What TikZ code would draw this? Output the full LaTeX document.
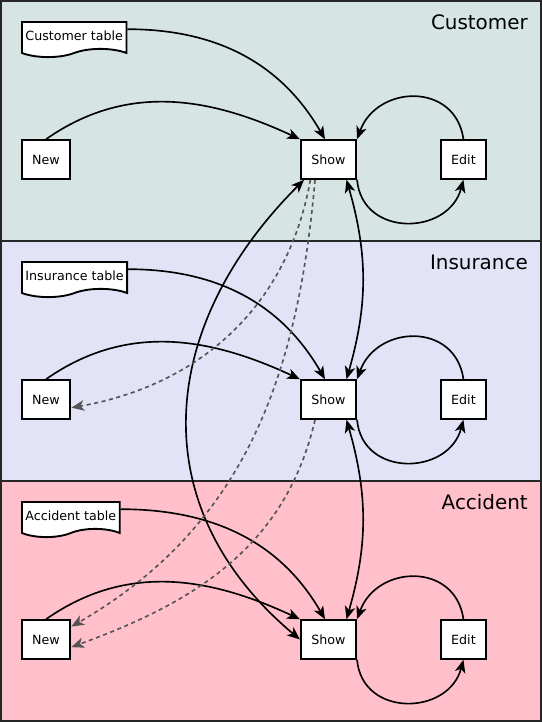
\documentclass[tikz,border=0pt]{standalone}
\usepackage{fontspec}
\setmainfont{DejaVu Sans}
\usetikzlibrary{positioning,shapes.symbols,arrows.meta}

\definecolor{custbg}{RGB}{214,229,227}
\definecolor{insbg}{RGB}{227,227,248}
\definecolor{accbg}{RGB}{255,192,203}
\definecolor{jumpgray}{RGB}{85,85,85}

\tikzset{
  panel/.style={draw=black!85, line width=1.7pt},
  screen/.style={draw, fill=white, line width=1.6pt, minimum height=33pt, inner xsep=9pt, font=\fontsize{10.8}{13}\selectfont},
  tab/.style={tape, tape bend top=none, tape bend bottom=in and out, tape bend height=7pt, draw, fill=white, line width=1.6pt, minimum height=30pt, inner xsep=3pt, font=\fontsize{10.8}{13}\selectfont},
  title/.style={anchor=base east, inner sep=0pt, font=\fontsize{17}{20}\selectfont},
  link/.style={-{Stealth[length=11pt,width=9pt,inset=3pt]}, line width=1.4pt},
  both/.style={{Stealth[length=11pt,width=9pt,inset=3pt]}-{Stealth[length=11pt,width=9pt,inset=3pt]}, line width=1.4pt},
  jump/.style={-{Stealth[length=11pt,width=9pt,inset=3pt]}, jumpgray, dash pattern=on 3.5pt off 3pt, line width=1.4pt},
}

\begin{document}
\begin{tikzpicture}[x=0.03cm, y=0.03cm]
  \useasboundingbox (0,0) rectangle (542,-722);

  % one band per table
  \foreach \i/\pname/\bg in {0/Customer/custbg, 1/Insurance/insbg, 2/Accident/accbg} {
    \filldraw[panel, fill=\bg] (1,{-1-240*\i}) rectangle (541,{-241-240*\i});
    \node[title] (ttl\i) at (528,{-29-240*\i}) {\pname};
    \node[tab, anchor=north west] (tab\i) at (21,{-21-240*\i}) {\pname{} table};
    \node[screen] (new\i) at (46,{-159.5-240*\i}) {New};
    \node[screen] (show\i) at (328.5,{-159.5-240*\i}) {Show};
    \node[screen, right=2.48cm of show\i] (edit\i) {Edit};

    \draw[link] ([yshift=-7pt]tab\i.north east) to[out=0, in=120] ([xshift=-3pt]show\i.north);
    \draw[link] (new\i.north) to[out=35, in=155] (show\i.north west);
    \draw[link] (edit\i.north) to[out=98, in=70, looseness=1.4] (show\i.north east);
    \draw[link] (show\i.south east) to[out=-85, in=-105, looseness=1.4] (edit\i.south);
  }

  % between the bands
  \draw[both] ([xshift=3.5pt]show0.south west) to[out=-135, in=140, looseness=1.15] (show2.west);
  \draw[both] ([xshift=-9pt]show0.south east) to[out=-74, in=74] ([xshift=-9pt]show1.north east);
  \draw[both] ([xshift=-9pt]show1.south east) to[out=-74, in=74] ([xshift=-9pt]show2.north east);

  \draw[jump] ([xshift=-15.5pt]show0.south) to[out=-100, in=10] ([yshift=-7pt]new1.east);
  \draw[jump] ([xshift=-11.5pt]show0.south) to[out=-95, in=30] ([yshift=11pt]new2.east);
  \draw[jump] ([xshift=-11.5pt]show1.south) to[out=-103, in=20] ([yshift=-6.5pt]new2.east);
\end{tikzpicture}
\end{document}
